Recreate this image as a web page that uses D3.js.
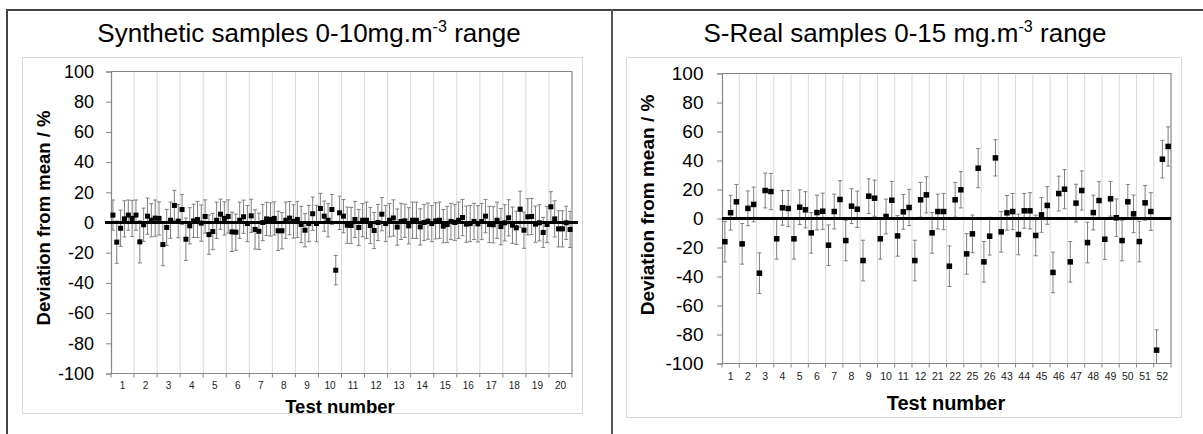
<!DOCTYPE html>
<html><head><meta charset="utf-8">
<script src="https://cdn.jsdelivr.net/npm/d3@7"></script>
<style>body{margin:0;background:#fff;} svg{display:block;}</style>
</head><body>
<svg id="chart" width="1203" height="434"></svg>
<script>
// ---------- DATA ----------
const yTicks = [-100, -80, -60, -40, -20, 0, 20, 40, 60, 80, 100];

const leftCategories = ["1","2","3","4","5","6","7","8","9","10","11","12","13","14","15","16","17","18","19","20"];
const leftValues = [
  4.9, -13, -3.8, 2.4, 4.9, 2.7,
  4.9, -12.8, -1.5, 4.2, 1.5, 2.9,
  2.7, -14.6, -3.3, 1.5, 11.3, 0.9,
  8.6, -11.1, -2.2, 1.1, 2, -0.4,
  4, -8, -6, 1.5, 5.5, 2.7,
  4, -6.2, -6.4, 1.5, 3.8, -0.7,
  4.4, -4.6, -5.8, 0, 2.4, 2,
  2.7, -5.5, -5.5, 1.5, 2.9, 0.7,
  2, -1.3, -5.1, -0.7, 5.8, -0.7,
  9.3, 4.2, 1.5, 8.6, -31.6, 6.4,
  4.2, -1.8, -2, 2, -3.3, 1.5,
  1.5, -2, -5.3, 0, 5.5, -0.7,
  1.5, 3, -3, 0.7, 1.1, -2.2,
  1.5, 1.5, -2.9, 0, 0.9, -0.7,
  1.1, 1.5, -2.4, -1.3, 0.7, 0,
  1.5, 3.3, -1.1, -0.7, 0.7, -0.9,
  0.7, 4.2, -1.3, -1.5, 1.5, -2.7,
  -0.2, 3.1, -1.8, -3.5, 8.8, -5.1,
  3.8, 4, -1.1, -0.2, -6.6, -1.3,
  10.4, 2.4, -4.2, -4.2, -0.2, -4.6
];
const leftErrors = [
  10, 14, 12, 12, 10, 12,
  10, 14, 11, 12, 11, 12,
  11, 14, 12, 12, 10, 11,
  10, 14, 12, 11, 12, 12,
  11, 13, 12, 12, 10, 11,
  11, 13, 12, 12, 11, 12,
  11, 13, 12, 12, 11, 11,
  11, 13, 12, 12, 11, 11,
  12, 12, 11, 12, 11, 12,
  10, 10, 11, 10, 9.7, 11,
  11, 12, 12, 12, 12, 11,
  12, 12, 12, 12, 11, 12,
  11, 12, 12, 12, 11, 12,
  12, 12, 12, 12, 12, 12,
  12, 12, 11, 12, 12, 12,
  12, 12, 12, 12, 12, 12,
  12, 11, 12, 12, 12, 12,
  12, 12, 12, 11, 12, 12,
  12, 12, 12, 12, 10, 12,
  10, 12, 12, 12, 11, 12
];

const rightCategories = ["1","2","3","4","5","6","7","8","9","10","11","12","21","22","25","26","43","44","45","46","47","48","49","50","51","52"];
const rightValues = [
  -16, 4, 11.5,
  -17.5, 7, 9.7,
  -37.7, 19.3, 18.6,
  -14, 7.4, 6.9,
  -14, 7.8, 6,
  -9.9, 4.1, 5,
  -18.4, 4.8, 13.1,
  -15.2, 8.5, 6.4,
  -29, 15.4, 14,
  -14, 1.4, 12.6,
  -12, 4.6, 7.6,
  -29, 12.9, 16.3,
  -9.9, 4.8, 4.8,
  -32.9, 12.9, 19.8,
  -24.4, -10.6, 34.7,
  -29.9, -12.2, 41.8,
  -9.2, 3.9, 4.8,
  -11, 5.3, 5.3,
  -11.7, 2.5, 9,
  -37.2, 17.2, 20.2,
  -29.9, 10.6, 19.3,
  -16.6, 4.1, 12.4,
  -14.3, 13.6, 0.5,
  -15.2, 11.5, 3.2,
  -15.9, 10.8, 4.8,
  -90.8, 40.9, 49.7
];
const rightErrors = [
  14, 12, 12,
  14, 12, 12,
  14, 12, 12.5,
  14, 12, 12.5,
  14, 12, 12.5,
  14, 12, 12.5,
  14, 12, 13,
  14, 12, 12.5,
  14, 12, 12.5,
  14, 12, 13,
  14, 12, 12.5,
  14, 12, 12.5,
  14, 12, 12.5,
  14, 12, 12.5,
  14, 13, 13.5,
  14, 13, 12.5,
  14, 12, 12.5,
  14, 12, 12.5,
  14, 12, 13,
  14, 12, 13.5,
  14, 13, 13.5,
  14, 12, 13,
  14, 12, 13,
  14, 12, 13,
  14, 12, 13,
  14, 13, 13.5
];

// ---------- DRAWING ----------
const FONT = "'Liberation Sans', Arial, Helvetica, sans-serif";
const AXIS = "#868686";
const svg = d3.select("#chart").attr("font-family", FONT);

// outer frame lines
svg.append("line").attr("x1", 6).attr("x2", 1203).attr("y1", 10).attr("y2", 10)
  .attr("stroke", "#444").attr("stroke-width", 2);
svg.append("line").attr("x1", 7).attr("x2", 7).attr("y1", 9).attr("y2", 434)
  .attr("stroke", "#444").attr("stroke-width", 2);
svg.append("line").attr("x1", 612).attr("x2", 612).attr("y1", 9).attr("y2", 434)
  .attr("stroke", "#555").attr("stroke-width", 2);

function drawChart(o) {
  const g = svg.append("g");
  g.append("rect").attr("x", o.area[0] + 0.5).attr("y", o.area[1] + 0.5)
    .attr("width", o.area[2] - o.area[0]).attr("height", o.area[3] - o.area[1])
    .attr("fill", "none").attr("stroke", "#d9d9d9");

  const t = g.append("text").attr("x", o.titleX).attr("y", o.titleY)
    .attr("text-anchor", "middle").attr("font-size", o.titleSize).attr("fill", "#000");
  t.append("tspan").text(o.title[0]);
  t.append("tspan").text(o.title[1]).attr("font-size", o.titleSize * 0.62).attr("dy", -o.titleSize * 0.38);
  t.append("tspan").text(o.title[2]).attr("dy", o.titleSize * 0.38);

  const P = o.plot;
  const x = d3.scaleBand().domain(o.categories).range([P.l, P.r]).padding(0);
  const sub = d3.scaleBand().domain(d3.range(o.perCat)).range([0, x.bandwidth()]).padding(0);
  const y = d3.scaleLinear().domain([-100, 100]).range([P.b, P.t]);

  g.append("g").selectAll("line").data(o.categories.slice(1)).join("line")
    .attr("x1", d => x(d)).attr("x2", d => x(d)).attr("y1", P.t).attr("y2", P.b)
    .attr("stroke", "#d9d9d9").attr("stroke-width", 1);

  g.append("path").attr("d", `M${P.l},${P.t}H${P.r}V${P.b}H${P.l}`)
    .attr("fill", "none").attr("stroke", AXIS).attr("stroke-width", 1.2);

  const ya = g.append("g").attr("transform", `translate(${P.l},0)`)
    .call(d3.axisLeft(y).tickValues(yTicks).tickSize(5).tickPadding(o.yPad).tickFormat(d => String(d)))
    .attr("font-family", FONT).attr("font-size", o.yFont);
  ya.select(".domain").attr("stroke", AXIS).attr("stroke-width", 1.2);
  ya.selectAll(".tick line").attr("stroke", AXIS);
  ya.selectAll(".tick text").attr("fill", "#000");

  const xa = g.append("g").attr("transform", `translate(0,${P.b})`)
    .call(d3.axisBottom(x).tickSize(0).tickPadding(o.xPad))
    .attr("font-family", FONT).attr("font-size", o.xFont);
  xa.select(".domain").remove();
  xa.selectAll(".tick text").attr("fill", "#222");
  const bounds = o.categories.map(c => x(c)).concat([x.range()[1]]);
  g.append("g").selectAll("line").data(bounds).join("line")
    .attr("x1", d => d).attr("x2", d => d).attr("y1", P.b).attr("y2", P.b + 4)
    .attr("stroke", AXIS);

  const pts = o.values.map((v, i) => ({
    cat: o.categories[Math.floor(i / o.perCat)], j: i % o.perCat, v, e: o.errors[i]
  }));
  const cx = d => x(d.cat) + sub(d.j) + sub.bandwidth() / 2;

  const clipId = "clip" + o.id;
  g.append("clipPath").attr("id", clipId).append("rect")
    .attr("x", P.l - 10).attr("y", P.t).attr("width", P.r - P.l + 20).attr("height", P.b - P.t);

  const eb = g.append("g").attr("clip-path", `url(#${clipId})`)
    .attr("stroke", "#7f7f7f").attr("stroke-width", 1);
  eb.selectAll("line.v").data(pts).join("line").attr("class", "v")
    .attr("x1", cx).attr("x2", cx).attr("y1", d => y(d.v - d.e)).attr("y2", d => y(d.v + d.e));
  eb.selectAll("line.t").data(pts).join("line").attr("class", "t")
    .attr("x1", d => cx(d) - 2).attr("x2", d => cx(d) + 2).attr("y1", d => y(d.v + d.e)).attr("y2", d => y(d.v + d.e));
  eb.selectAll("line.b").data(pts).join("line").attr("class", "b")
    .attr("x1", d => cx(d) - 2).attr("x2", d => cx(d) + 2).attr("y1", d => y(d.v - d.e)).attr("y2", d => y(d.v - d.e));

  g.append("line").attr("x1", P.l - o.zeroExt).attr("x2", P.r + o.zeroExt)
    .attr("y1", y(0)).attr("y2", y(0)).attr("stroke", "#000").attr("stroke-width", 3);

  const ms = o.marker;
  g.append("g").selectAll("rect").data(pts).join("rect")
    .attr("x", d => cx(d) - ms / 2).attr("y", d => y(d.v) - ms / 2)
    .attr("width", ms).attr("height", ms).attr("fill", "#000");

  g.append("text").attr("transform", `translate(${o.yTitleX},${o.yTitleY}) rotate(-90)`)
    .attr("text-anchor", "middle").attr("font-weight", "bold").attr("font-size", o.yTitleSize)
    .attr("fill", "#000").text("Deviation from mean / %");
  g.append("text").attr("x", o.xTitleX).attr("y", o.xTitleY)
    .attr("text-anchor", "middle").attr("font-weight", "bold").attr("font-size", o.xTitleSize)
    .attr("fill", "#000").text("Test number");
}

drawChart({
  id: "L",
  area: [22, 57, 582, 413],
  title: ["Synthetic samples 0-10mg.m", "-3", " range"],
  titleX: 309, titleY: 42, titleSize: 26,
  plot: { l: 111, r: 572, t: 71.5, b: 373.5 },
  categories: leftCategories, values: leftValues, errors: leftErrors, perCat: 6,
  yFont: 18, yPad: 12, xFont: 10, xPad: 8,
  zeroExt: 6, marker: 5,
  yTitleX: 50, yTitleY: 218, yTitleSize: 18.5,
  xTitleX: 340, xTitleY: 412.5, xTitleSize: 18.5
});

drawChart({
  id: "R",
  area: [626, 57, 1181, 417],
  title: ["S-Real samples 0-15 mg.m", "-3", " range"],
  titleX: 905, titleY: 42, titleSize: 26,
  plot: { l: 722, r: 1171, t: 73.5, b: 363.5 },
  categories: rightCategories, values: rightValues, errors: rightErrors, perCat: 3,
  yFont: 19, yPad: 13.5, xFont: 10.5, xPad: 9,
  zeroExt: 0, marker: 5.5,
  yTitleX: 654, yTitleY: 205, yTitleSize: 19,
  xTitleX: 946, xTitleY: 409.5, xTitleSize: 20
});
</script>
</body></html>
